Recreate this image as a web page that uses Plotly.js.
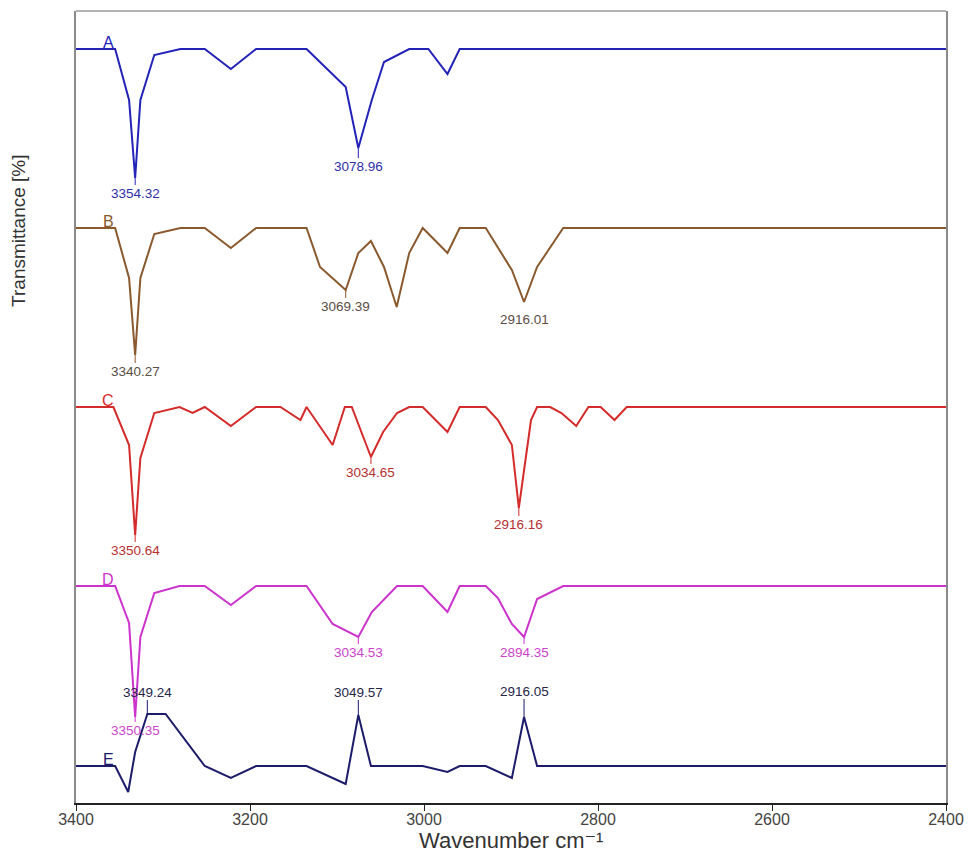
<!DOCTYPE html>
<html>
<head>
<meta charset="utf-8">
<script src="https://cdn.plot.ly/plotly-3.0.1.min.js"></script>
<style>
  html, body { margin: 0; padding: 0; background: #ffffff; }
  #chart { width: 970px; height: 852px; }
</style>
</head>
<body>
<div id="chart"></div>
<script>
// ---- Data (wavenumber cm-1, stacked transmittance in arbitrary offset units) ----
const wnA = [3400, 3355, 3339, 3332, 3326, 3310, 3280, 3252, 3222, 3193, 3135, 3090, 3075.5, 3060, 3046, 3017, 2995, 2973, 2959, 2400];
const tA  = [754, 754, 703, 625, 703, 748, 754, 754, 734, 754, 754, 716, 655, 703, 741, 754, 754, 729, 754, 754];

const wnB = [3400, 3355, 3339, 3332, 3326, 3310, 3280, 3252, 3222, 3193, 3135, 3119.5, 3090, 3075.5, 3061, 3046, 3031.4, 3017, 3001.5, 2973, 2959, 2929, 2899, 2885, 2870, 2840, 2400];
const tB  = [575, 575, 525, 448, 525, 569, 575, 575, 555, 575, 575, 536, 513, 550, 562, 536, 496, 550, 575, 550, 575, 575, 533, 501, 536, 575, 575];

const wnC = [3400, 3357, 3339, 3332, 3326, 3310, 3281, 3266, 3252, 3222, 3193, 3165, 3142, 3135, 3105, 3091, 3083, 3061, 3047, 3031, 3017, 3001.5, 2973, 2959, 2929, 2915, 2899, 2891, 2877, 2870, 2855, 2842, 2825, 2811, 2797, 2781, 2767, 2400];
const tC  = [396, 396, 358, 268, 345, 390, 396, 390, 396, 377, 396, 396, 383, 396, 358, 396, 396, 346, 371, 390, 396, 396, 371, 396, 396, 383, 358, 295, 383, 396, 396, 390, 377, 396, 396, 383, 396, 396];

const wnD = [3400, 3355, 3339, 3332, 3326, 3310, 3281, 3252, 3222, 3193, 3135, 3105, 3075.5, 3060, 3031, 3001.5, 2973, 2959, 2929, 2915, 2899, 2885, 2870, 2840, 2400];
const tD  = [217, 217, 180, 86, 166, 210, 217, 217, 198, 217, 217, 179, 166, 191, 217, 217, 191, 217, 217, 205, 179, 166, 204, 217, 217];

const wnE = [3400, 3355, 3340, 3332, 3318, 3297, 3252, 3222, 3193, 3135, 3090, 3075.5, 3061, 3001.5, 2973, 2959, 2929, 2899, 2885, 2870, 2400];
const tE  = [37, 37, 11, 51, 89, 89, 37, 25, 37, 37, 19, 88, 37, 37, 31, 37, 37, 25, 86, 37, 37];

// Peak labels
const peakA_x = [3332, 3075.5];   const peakA_y = [625, 655];   const peakA_text = ["3354.32", "3078.96"];
const peakB_x = [3332, 3090, 2885]; const peakB_y = [448, 513, 501]; const peakB_text = ["3340.27", "3069.39", "2916.01"];
const peakC_x = [3332, 3061, 2891]; const peakC_y = [268, 346, 295]; const peakC_text = ["3350.64", "3034.65", "2916.16"];
const peakD_x = [3332, 3075.5, 2885]; const peakD_y = [86, 166, 166]; const peakD_text = ["3350.35", "3034.53", "2894.35"];
const peakE_x = [3318, 3075.5, 2885]; const peakE_y = [89, 88, 86]; const peakE_text = ["3349.24", "3049.57", "2916.05"];

const sampleNames = ["A", "B", "C", "D", "E"];
const tickVals = [3400, 3200, 3000, 2800, 2600, 2400];

// ---- Styling ----
const styles = [
  { line: "#2323b8", label: "#2f2fa8", off: [15, 18] },
  { line: "#8a5a2e", label: "#5a4e44", off: [16, 16, 17] },
  { line: "#d42b2b", label: "#b83030", off: [15, 15, 16] },
  { line: "#cc33cc", label: "#cc44cc", off: [13, 15, 15] },
  { line: "#1c1c6b", label: "#26264a", off: [-22, -23, -26] }
];
const seriesX = [wnA, wnB, wnC, wnD, wnE];
const seriesY = [tA, tB, tC, tD, tE];
const peaksX = [peakA_x, peakB_x, peakC_x, peakD_x, peakE_x];
const peaksY = [peakA_y, peakB_y, peakC_y, peakD_y, peakE_y];
const peaksT = [peakA_text, peakB_text, peakC_text, peakD_text, peakE_text];

const traces = seriesX.map((xs, i) => ({
  x: xs, y: seriesY[i], type: "scatter", mode: "lines",
  line: { color: styles[i].line, width: 2 },
  name: sampleNames[i], hoverinfo: "skip"
}));

const annotations = [];
seriesX.forEach((xs, i) => {
  annotations.push({
    x: 3363, y: seriesY[i][0], xref: "x", yref: "y",
    text: sampleNames[i], showarrow: false,
    xanchor: "center", yanchor: "bottom", yshift: -4,
    font: { family: "Liberation Sans, Arial, sans-serif", size: 16, color: styles[i].line }
  });
  peaksX[i].forEach((px, j) => {
    annotations.push({
      x: px, y: peaksY[i][j], xref: "x", yref: "y",
      text: peaksT[i][j], showarrow: true, arrowhead: 0, arrowwidth: 1,
      arrowcolor: styles[i].line, ax: 0, ay: styles[i].off[j], standoff: 0,
      font: { family: "Liberation Sans, Arial, sans-serif", size: 13.5, color: styles[i].label },
      borderpad: 0
    });
  });
});

// axis titles as annotations (positioned as in reference)
annotations.push({
  xref: "paper", yref: "paper", x: -0.067, y: 0.722,
  text: "Transmittance [%]", textangle: -90, showarrow: false,
  xanchor: "center", yanchor: "middle",
  font: { family: "Liberation Sans, Arial, sans-serif", size: 19, color: "#333333" }
});
annotations.push({
  xref: "paper", yref: "paper", x: 0.5, y: -0.047,
  text: "Wavenumber cm\u207B\u00B9", showarrow: false,
  xanchor: "center", yanchor: "middle",
  font: { family: "Liberation Sans, DejaVu Sans, Arial, sans-serif", size: 22, color: "#333333" }
});

const layout = {
  width: 970, height: 852,
  margin: { l: 76, r: 24, t: 11, b: 49 },
  paper_bgcolor: "#ffffff", plot_bgcolor: "#ffffff",
  showlegend: false, hovermode: false,
  xaxis: {
    range: [3400, 2400], tickvals: tickVals, ticktext: tickVals.map(String),
    ticks: "outside", ticklen: 6, tickwidth: 1, tickcolor: "#222222",
    ticklabelstandoff: -5,
    showline: true, linecolor: "#222222", linewidth: 2, mirror: false,
    showgrid: false, zeroline: false,
    tickfont: { family: "Liberation Sans, Arial, sans-serif", size: 16, color: "#444444" }
  },
  yaxis: {
    range: [0, 792], showticklabels: false, ticks: "",
    showline: true, linecolor: "#8a8a8a", linewidth: 2, mirror: true,
    showgrid: false, zeroline: false
  },
  shapes: [{
    type: "line", xref: "paper", yref: "paper", x0: 0, x1: 1, y0: 1, y1: 1,
    line: { color: "#9a9a9a", width: 1.5 }
  }],
  annotations: annotations
};

Plotly.newPlot("chart", traces, layout, { staticPlot: true, displayModeBar: false });
</script>
</body>
</html>
